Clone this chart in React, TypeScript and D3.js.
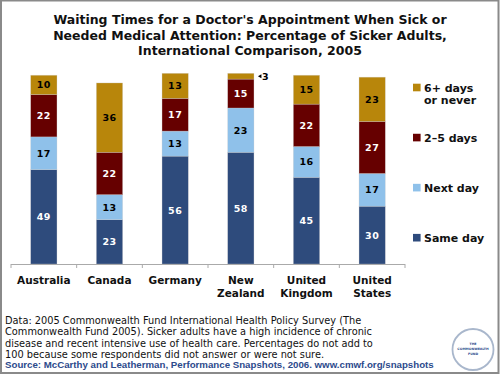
import React from "react";
import * as d3 from "d3";

const countries = ["Australia", "Canada", "Germany", "New Zealand", "United Kingdom", "United States"];
const countryLines = [["Australia"], ["Canada"], ["Germany"], ["New", "Zealand"], ["United", "Kingdom"], ["United", "States"]];
const seriesNames = ["Same day", "Next day", "2–5 days", "6+ days or never"];
const sameDay = [49, 23, 56, 58, 45, 30];
const nextDay = [17, 13, 13, 23, 16, 17];
const twoFiveDays = [22, 22, 17, 15, 22, 27];
const sixPlus = [10, 36, 13, 3, 15, 23];
const seriesValues = [sameDay, nextDay, twoFiveDays, sixPlus];
const colors = ["#2E4B7C", "#8FC1EA", "#660000", "#B8860B"];
const labelColors = ["#ffffff", "#000000", "#ffffff", "#000000"];
const titleLines = [
  "Waiting Times for a Doctor's Appointment When Sick or",
  "Needed Medical Attention: Percentage of Sicker Adults,",
  "International Comparison, 2005",
];
const noteLines = [
  "Data: 2005 Commonwealth Fund International Health Policy Survey (The",
  "Commonwealth Fund 2005). Sicker adults have a high incidence of chronic",
  "disease and recent intensive use of health care. Percentages do not add to",
  "100 because some respondents did not answer or were not sure.",
];
const sourceLine = "Source: McCarthy and Leatherman, Performance Snapshots, 2006. www.cmwf.org/snapshots";
const legendItems = [
  { s: 3, lines: ["6+ days", "or never"] },
  { s: 2, lines: ["2–5 days"] },
  { s: 1, lines: ["Next day"] },
  { s: 0, lines: ["Same day"] },
];

export default function App() {
  const W = 500, H = 375;
  const x = d3.scaleBand<string>().domain(countries).range([11, 405]).paddingInner(0.6).paddingOuter(0.3);
  const y = d3.scaleLinear().domain([0, 100]).range([264, 71.4]);
  const table = countries.map((c, i) => {
    const row: any = { country: c };
    seriesValues.forEach((vals, s) => (row["s" + s] = vals[i]));
    return row;
  });
  const stack = d3.stack().keys(seriesValues.map((_, s) => "s" + s))(table);
  const font = "'DejaVu Sans', Verdana, sans-serif";
  const step = x.step();
  const boundaries = d3.range(countries.length + 1).map((i) => 11 + i * step);
  const legendY = d3.scaleLinear().domain([3, 0]).range([87.5, 237.7]);

  return (
    <svg width={W} height={H} style={{ position: "absolute", left: 0, top: 0, background: "#fff" }} fontFamily={font}>
      <rect x={1} y={0.5} width={497.5} height={372.5} fill="#fff" stroke="#8a8a8a" strokeWidth={2} />
      {titleLines.map((t, i) => (
        <text key={i} x={250} y={24 + i * 15.5} textAnchor="middle" fontWeight="bold" fontSize={12.5} fill="#111">
          {t}
        </text>
      ))}
      {stack.map((layer, s) => (
        <g key={s}>
          {layer.map((d, i) => (
            <rect
              key={i}
              x={x(countries[i])}
              y={y(d[1])}
              width={x.bandwidth()}
              height={y(d[0]) - y(d[1])}
              fill={colors[s]}
              stroke="#d0d0d0"
              strokeOpacity={0.5}
              strokeWidth={0.6}
            />
          ))}
        </g>
      ))}
      {stack.map((layer, s) =>
        layer.map((d, i) => {
          const v = seriesValues[s][i];
          const cx = (x(countries[i]) as number) + x.bandwidth() / 2;
          const cy = (y(d[0]) + y(d[1])) / 2;
          if (v < 5) {
            const rx = (x(countries[i]) as number) + x.bandwidth() + 5;
            return (
              <g key={s + "-" + i}>
                <path d={`M${rx - 1},${cy} L${rx + 2.5},${cy - 2} L${rx + 2.5},${cy + 2} Z`} fill="#000" />
                <text x={rx + 3} y={cy + 3.5} fontSize={9.5} fontWeight="bold" fill="#000">
                  {v}
                </text>
              </g>
            );
          }
          return (
            <text key={s + "-" + i} x={cx} y={cy + 3.5} textAnchor="middle" fontSize={9.5} fontWeight="bold" fill={labelColors[s]} letterSpacing={0.5}>
              {v}
            </text>
          );
        })
      )}
      <line x1={11} x2={405} y1={264.5} y2={264.5} stroke="#aaa" strokeWidth={1} />
      {boundaries.map((bx, i) => (
        <line key={i} x1={bx} x2={bx} y1={264} y2={268} stroke="#aaa" strokeWidth={1} />
      ))}
      {countryLines.map((lines, i) => (
        <text key={i} textAnchor="middle" fontSize={10.5} fontWeight="bold" fill="#111">
          {lines.map((l, j) => (
            <tspan key={j} x={(x(countries[i]) as number) + x.bandwidth() / 2} y={284 + j * 13}>
              {l}
            </tspan>
          ))}
        </text>
      ))}
      {legendItems.map((item, k) => {
        const cy = legendY(item.s);
        return (
          <g key={k}>
            <rect x={413} y={cy - 3.8} width={7.6} height={7.6} fill={colors[item.s]} />
            {item.lines.map((l, j) => (
              <text key={j} x={424} y={cy + 4 + j * 12} fontSize={11} fontWeight="bold" fill="#111">
                {l}
              </text>
            ))}
          </g>
        );
      })}
      {noteLines.map((t, i) => (
        <text key={i} x={5} y={324 + i * 11.3} fontSize={9.8} fill="#111">
          {t}
        </text>
      ))}
      <text x={5} y={368} fontSize={9.7} fontWeight="bold" fill="#2C4A8C" fontFamily="'Liberation Sans', Arial, sans-serif">
        {sourceLine}
      </text>
      <circle cx={473} cy={349.5} r={20.5} fill="#fff" stroke="#A9B7CC" strokeWidth={1.8} />
      <text x={473} y={345} textAnchor="middle" fontSize={3.2} fontWeight="bold" fill="#2C4A8C">THE</text>
      <text x={473} y={350} textAnchor="middle" fontSize={3.2} fontWeight="bold" fill="#2C4A8C">COMMONWEALTH</text>
      <text x={473} y={355} textAnchor="middle" fontSize={3.2} fontWeight="bold" fill="#2C4A8C">FUND</text>
    </svg>
  );
}
